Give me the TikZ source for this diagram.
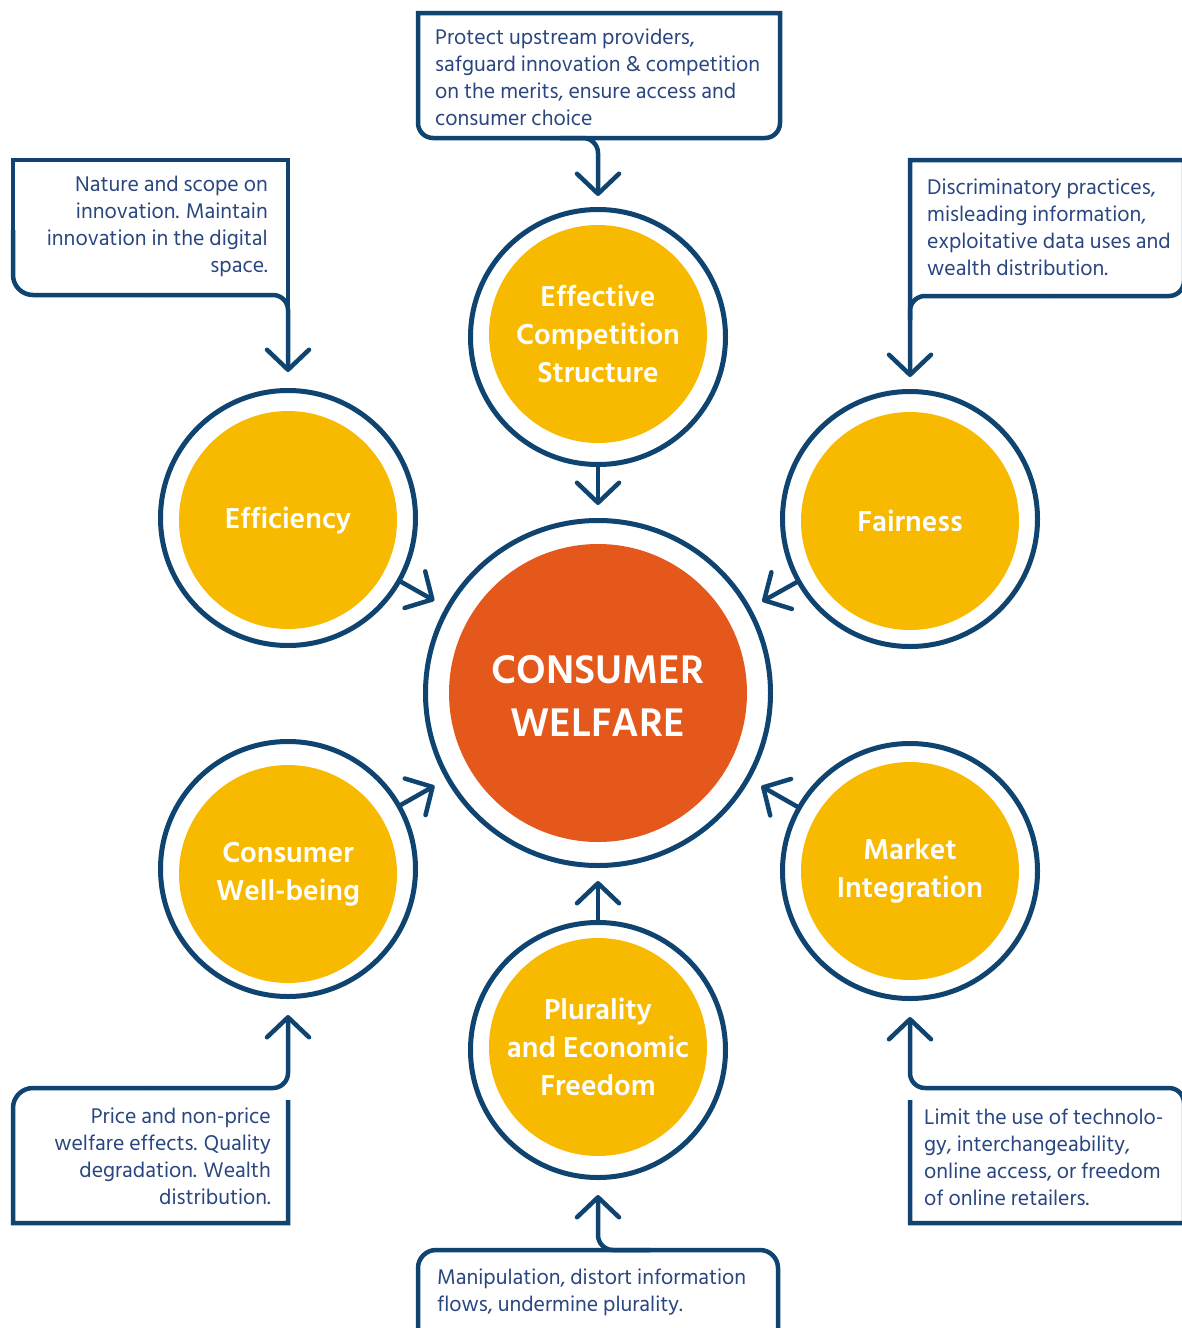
\documentclass[tikz,border=0pt]{standalone}
\usepackage{fontspec}
\setmainfont{Hind Siliguri}
\usetikzlibrary{arrows.meta}
\definecolor{navy}{HTML}{0E446F}
\definecolor{txt}{HTML}{2A4680}
\definecolor{sun}{HTML}{F8BA00}
\definecolor{fire}{HTML}{E5581C}
\begin{document}
\begin{tikzpicture}[x=1pt,y=-1pt,
  ring/.style={circle, draw=navy, line width=5pt, fill=white, minimum size=255pt, inner sep=0pt},
  disc/.style={circle, fill=sun, minimum size=218pt, inner sep=0pt, text=white,
    font=\fontsize{29.5}{38}\selectfont\bfseries, align=center},
  conn/.style={draw=navy, line width=4.5pt, line cap=round,
    -{Straight Barb[length=20pt,width=42pt,line width=4.5pt,round]}},
  box/.style={draw=navy, line width=4.5pt},
  desc/.style={text=txt, font=\fontsize{21.8}{27}\selectfont, inner sep=0pt}]
\fill[white] (0,0) rectangle (1181,1328);
\useasboundingbox (0,0) rectangle (1181,1328);

% centre
\node[circle, draw=navy, line width=5pt, minimum size=345pt, inner sep=0pt] (cwR) at (598,693) {};
\node[circle, fill=fire, minimum size=298pt, inner sep=0pt] (cwD) at (598,693) {};
\node[text=white, font=\fontsize{41}{53}\selectfont\bfseries, align=center] (cw) at (598,696) {CONSUMER\\WELFARE};

% satellites
\node[ring] (topR) at (598,337) {};
\node[disc] (top) at (598,334) {Effective\\Competition\\Structure};
\node[ring] (effR) at (288,518) {};
\node[disc] (eff) at (288,520) {Efficiency};
\node[ring] (fairR) at (910,519) {};
\node[disc] (fair) at (910,521) {Fairness};
\node[ring] (wbR) at (288,869) {};
\node[disc] (wb) at (288,874) {Consumer\\Well-being};
\node[ring] (miR) at (910,871) {};
\node[disc] (mi) at (910,871) {Market\\Integration};
\node[ring] (plR) at (598,1050) {};
\node[disc] (pl) at (598,1047) {Plurality\\and Economic\\Freedom};

% arrows to centre
\foreach \s in {topR,effR,fairR,wbR,miR,plR}
  \draw[conn, shorten >=13pt] (\s) -- (cwR);

% top box
\draw[box] (418,80) -- (418,13) -- (780,13) -- (780,80) [rounded corners=15] -- (780,138) -- (418,138) -- (418,80);
\node[desc, anchor=north west, align=left] (tbox) at (435,29)
  {Protect upstream providers,\\safguard innovation \& competition\\on the merits, ensure access and\\consumer choice};
\coordinate (tB) at (560,138);
\draw[conn, rounded corners=15, shorten >=11pt] (tB) -| (topR.north);

% efficiency box
\draw[box] (13,230) -- (13,160) -- (288,160) -- (288,320);
\draw[box] (13,230) [rounded corners=20] -- (13,295) -- (150,295);
\node[desc, anchor=north east, align=right] (ebox) at (268,176)
  {Nature and scope on\\innovation. Maintain\\innovation in the digital\\space.};
\coordinate (eB) at (150,295);
\draw[conn, rounded corners=15, shorten >=16pt] (eB) -| (effR.north);

% fairness box
\draw[box] (910,320) -- (910,160) -- (1184,160) -- (1184,230) [rounded corners=15] -- (1184,296) -- (1050,296);
\node[desc, anchor=north west, align=left] (fbox) at (927,179)
  {Discriminatory practices,\\misleading information,\\exploitative data uses and\\wealth distribution.};
\coordinate (fB) at (1050,296);
\draw[conn, rounded corners=15, shorten >=12pt] (fB) -| (fairR.north);

% well-being box
\draw[box] (288,1100) -- (288,1223) -- (13,1223) -- (13,1150) [rounded corners=20] -- (13,1088) -- (150,1088);
\node[desc, anchor=north east, align=right] (wbox) at (271,1108)
  {Price and non-price\\welfare effects. Quality\\degradation. Wealth\\distribution.};
\coordinate (wB) at (150,1088);
\draw[conn, rounded corners=15, shorten >=16pt] (wB) -| (wbR.south);

% market integration box
\draw[box] (910,1100) -- (910,1223) -- (1184,1223) -- (1184,1160) [rounded corners=15] -- (1184,1088) -- (1040,1088);
\node[desc, anchor=north west, align=left] (mbox) at (924,1109)
  {Limit the use of technolo-\\gy, interchangeability,\\online access, or freedom\\of online retailers.};
\coordinate (mB) at (1040,1088);
\draw[conn, rounded corners=15, shorten >=16pt] (mB) -| (miR.south);

% plurality box
\draw[box] (418,1340) -- (418,1300) [rounded corners=18] -- (418,1250) -- (778,1250) -- (778,1300) [sharp corners] -- (778,1340);
\node[desc, anchor=north west, align=left] (pbox) at (437,1269)
  {Manipulation, distort information\\flows, undermine plurality.};
\coordinate (pB) at (650,1250);
\draw[conn, rounded corners=15, shorten >=15pt] (pB) -| (plR.south);
\end{tikzpicture}
\end{document}
